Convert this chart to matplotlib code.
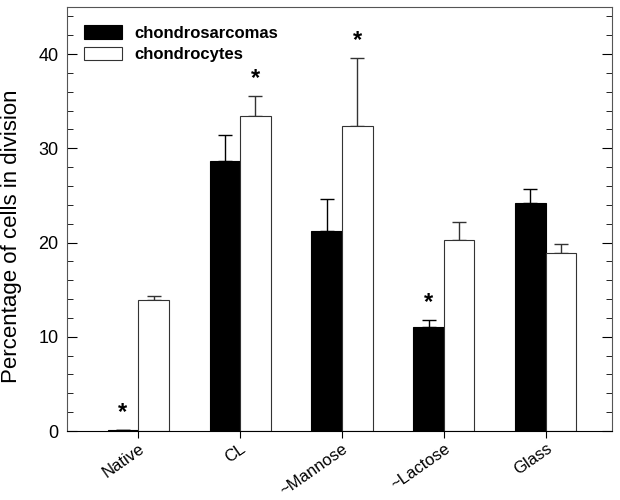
import numpy as np
import matplotlib.pyplot as plt

plt.rcParams["font.family"] = ["Liberation Sans", "DejaVu Sans"]

categories = ["Native", "CL", "~Mannose", "~Lactose", "Glass"]
sarcoma = [0.1, 28.7, 21.2, 11.0, 24.2]
sarcoma_err = [0.0, 2.7, 3.4, 0.8, 1.5]
chondro = [13.9, 33.4, 32.4, 20.3, 18.9]
chondro_err = [0.4, 2.2, 7.2, 1.9, 0.9]
# significance markers: (category index, series 0=sarcoma / 1=chondro)
stars = [(0, 0), (1, 1), (2, 1), (3, 0)]

x = np.arange(len(categories))
w = 0.3

fig = plt.figure(figsize=(6.2, 5.0), dpi=100)
ax = fig.add_axes([0.108, 0.138, 0.879, 0.848])

ax.bar(x - w / 2, sarcoma, w, color="black", edgecolor="black", linewidth=0.8,
       label="chondrosarcomas", zorder=2)
ax.bar(x + w / 2, chondro, w, color="white", edgecolor="#333333", linewidth=0.8,
       label="chondrocytes", zorder=2)
ax.errorbar(x - w / 2, sarcoma, yerr=[np.zeros(len(x)), sarcoma_err], fmt="none",
            ecolor="black", elinewidth=1, capsize=5, capthick=1, zorder=1)
ax.errorbar(x + w / 2, chondro, yerr=[np.zeros(len(x)), chondro_err], fmt="none",
            ecolor="#333333", elinewidth=1, capsize=5, capthick=1, zorder=1)

for i, s in stars:
    if s == 0:
        xs, top = x[i] - w / 2, sarcoma[i] + sarcoma_err[i]
    else:
        xs, top = x[i] + w / 2, chondro[i] + chondro_err[i]
    ax.text(xs, top + 0.6, "*", ha="center", va="bottom", fontsize=17,
            fontweight="bold")

ax.set_xlim(-0.7, 4.65)
ax.set_ylim(0, 45)
ax.set_xticks(x)
ax.set_xticklabels(categories, rotation=35, ha="right", rotation_mode="anchor",
                   fontsize=12)
ax.set_yticks([0, 10, 20, 30, 40])
ax.set_yticks(np.arange(0, 45, 2), minor=True)
ax.tick_params(axis="y", which="major", direction="in", length=7, labelsize=13,
               right=True, pad=6)
ax.tick_params(axis="y", which="minor", direction="in", length=4, right=True)
ax.tick_params(axis="x", direction="out", length=5, pad=2)
ax.set_ylabel("Percentage of cells in division", fontsize=16)
ax.yaxis.set_label_coords(-0.082, 0.46)
for sp in ax.spines.values():
    sp.set_color("#555555")
ax.spines["bottom"].set_color("black")

ax.legend(loc="upper left", frameon=False, prop={"weight": "bold", "size": 12},
          handlelength=2.3, handleheight=0.9, handletextpad=0.7,
          bbox_to_anchor=(0.01, 0.985), borderaxespad=0.3, labelspacing=0.35)

fig.savefig("out.png", dpi=100)
